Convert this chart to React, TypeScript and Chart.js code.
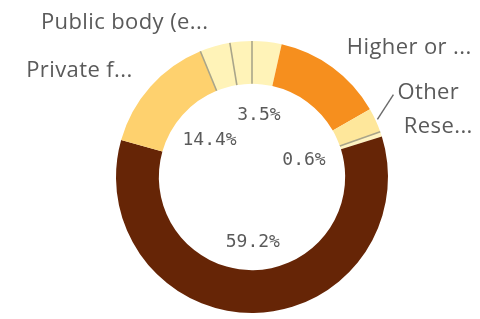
import React, { useEffect, useRef } from "react";
import { Chart, registerables } from "chart.js";

Chart.register(...registerables);

// ---- data (clockwise from 12 o'clock) ----
const categories = [
  "Public body (c)",
  "Higher or further education",
  "Other",
  "Research council",
  "Business",
  "Private funding",
  "Public body (education)",
  "Public body (b)",
];
const shares = [3.5, 13.2, 2.9, 0.6, 59.2, 14.4, 3.6, 2.6];
const outerLabels = ["", "Higher or ...", "Other", "Rese...", "", "Private f...", "Public body (e...", ""];
const showInnerValue = [true, false, false, true, true, true, false, false];

// ---- styles ----
const sliceColors = ["#fff3b8", "#f68f1e", "#fee79b", "#fff3c0", "#662506", "#fed16e", "#fff3b8", "#fff3b8"];
const separatorBefore = [true, false, false, true, false, false, true, true];
const TEXT = "#5a5a5a";
const OUTER_FONT = '22px "Open Sans", sans-serif';
const INNER_FONT = '18px "DejaVu Sans Mono", monospace';

const labelPlugin = {
  id: "donutLabels",
  afterDatasetsDraw(chart: any) {
    const ctx = chart.ctx;
    const meta = chart.getDatasetMeta(0);
    const total = shares.reduce((a, b) => a + b, 0);
    const arcs = meta.data.map((el: any) =>
      el.getProps(["x", "y", "startAngle", "endAngle", "innerRadius", "outerRadius"], true)
    );
    ctx.save();
    // separators
    arcs.forEach((a: any, i: number) => {
      if (!separatorBefore[i]) return;
      const ang = a.startAngle;
      ctx.beginPath();
      ctx.moveTo(a.x + Math.cos(ang) * a.innerRadius, a.y + Math.sin(ang) * a.innerRadius);
      ctx.lineTo(a.x + Math.cos(ang) * a.outerRadius, a.y + Math.sin(ang) * a.outerRadius);
      ctx.strokeStyle = "#a9a58a";
      ctx.lineWidth = 1.6;
      ctx.stroke();
    });
    // inner values
    ctx.font = INNER_FONT;
    ctx.fillStyle = TEXT;
    ctx.textAlign = "center";
    ctx.textBaseline = "middle";
    arcs.forEach((a: any, i: number) => {
      if (!showInnerValue[i]) return;
      const mid = (a.startAngle + a.endAngle) / 2;
      const r = a.innerRadius * 0.69 - 10 * Math.abs(Math.cos(mid));
      const pct = ((shares[i] / total) * 100).toFixed(1) + "%";
      ctx.fillText(pct, a.x + Math.cos(mid) * r, a.y + Math.sin(mid) * r + 1);
    });
    // outer labels
    ctx.font = OUTER_FONT;
    try {
      (ctx as any).letterSpacing = "0.4px";
    } catch (e) {}
    const items: any[] = [];
    arcs.forEach((a: any, i: number) => {
      if (!outerLabels[i]) return;
      const mid = (a.startAngle + a.endAngle) / 2;
      const R = a.outerRadius + 24;
      const c = Math.cos(mid);
      const s = Math.sin(mid);
      items.push({
        text: outerLabels[i],
        x: a.x + c * R,
        y: a.y + s * R,
        y0: a.y + s * R,
        ax: a.x + c * (a.outerRadius + 2),
        ay: a.y + s * (a.outerRadius + 2),
        align: c > 0 ? "left" : "right",
        side: c > 0 ? 1 : -1,
      });
    });
    // simple collision avoidance on right side (bottom to top)
    const right = items.filter((it) => it.side > 0).sort((p, q) => q.y - p.y);
    const gap = 34;
    for (let k = 1; k < right.length; k++) {
      if (right[k].y > right[k - 1].y - gap) right[k].y = right[k - 1].y - gap;
    }
    items.forEach((it) => {
      ctx.fillStyle = TEXT;
      ctx.textAlign = it.align;
      ctx.textBaseline = "middle";
      if (Math.abs(it.y - it.y0) > 4) {
        ctx.beginPath();
        ctx.moveTo(it.ax, it.ay);
        ctx.lineTo(it.x - 4, it.y + 2);
        ctx.strokeStyle = "#6a6a6a";
        ctx.lineWidth = 1.4;
        ctx.stroke();
      }
      ctx.fillText(it.text, it.x, it.y);
    });
    ctx.restore();
  },
};

export default function App() {
  const ref = useRef<HTMLCanvasElement | null>(null);
  useEffect(() => {
    document.body.style.margin = "0";
    if (!ref.current) return;
    const chart = new Chart(ref.current, {
      type: "doughnut",
      data: {
        labels: categories,
        datasets: [
          {
            data: shares,
            backgroundColor: sliceColors,
            borderWidth: 0,
          },
        ],
      },
      options: {
        responsive: false,
        animation: false,
        cutout: "68.5%",
        layout: { padding: { top: 41, bottom: 6, left: 116, right: 92 } },
        plugins: { legend: { display: false }, tooltip: { enabled: false } },
      },
      plugins: [labelPlugin],
    });
    return () => chart.destroy();
  }, []);
  return (
    <div style={{ width: 480, height: 319, background: "#fff" }}>
      <canvas ref={ref} width={480} height={319} style={{ display: "block" }} />
    </div>
  );
}
